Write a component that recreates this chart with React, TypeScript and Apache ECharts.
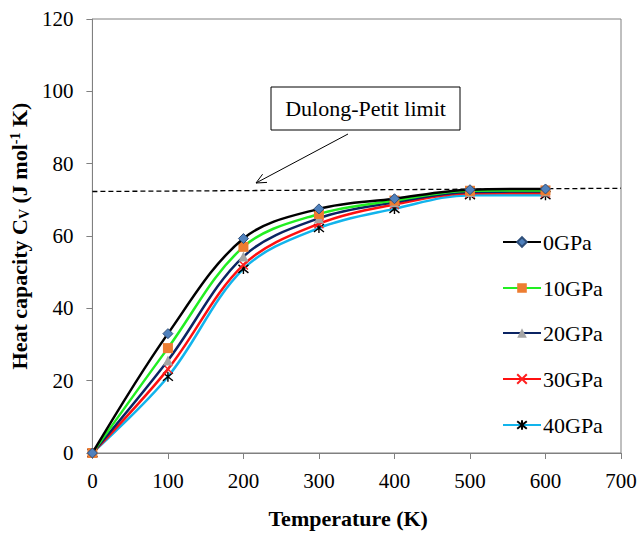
import React, { useEffect, useRef } from "react";
import * as echarts from "echarts";

const temperatures = [0, 100, 200, 300, 400, 500, 600];
const seriesNames = ["0GPa", "10GPa", "20GPa", "30GPa", "40GPa"];
const cv0 = [0, 33.0, 59.3, 67.5, 70.3, 72.8, 73.0];
const cv10 = [0, 29.0, 57.0, 66.1, 69.8, 72.5, 72.6];
const cv20 = [0, 25.6, 54.3, 64.9, 69.3, 72.2, 72.3];
const cv30 = [0, 23.2, 52.0, 63.4, 68.7, 71.8, 71.9];
const cv40 = [0, 21.1, 50.9, 62.2, 67.5, 71.3, 71.3];
const dulongX = [0, 700];
const dulongY = [72.3, 73.2];
const xTicks = [0, 100, 200, 300, 400, 500, 600, 700];
const yTicks = [0, 20, 40, 60, 80, 100, 120];

const FONT = "Liberation Serif";

const lineColors = ["#000000", "#22ee22", "#0b2463", "#ff1010", "#12b4ec"];
const markerColors = ["#4f81bd", "#ed7d31", "#a5a5a5", "#ff2020", "#000000"];
const symbols = [
  "diamond",
  "rect",
  "triangle",
  "path://M0,0L10,10M10,0L0,10",
  "path://M1,1L9,9M9,1L1,9M5,0L5,10",
];
const symbolSizes = [10, 10, 10, 9, 10];
const legendCenters = [237, 283, 328, 374, 420];

export default function App() {
  const ref = useRef<HTMLDivElement>(null);
  useEffect(() => {
    if (!ref.current) return;
    const chart = echarts.init(ref.current, null, { renderer: "svg" });
    const allData = [cv0, cv10, cv20, cv30, cv40];
    const series: any[] = allData.map((vals, i) => ({
      name: seriesNames[i],
      type: "line",
      smooth: 0.35,
      clip: false,
      data: temperatures.map((t, j) => [t, vals[j]]),
      symbol: symbols[i],
      symbolSize: symbolSizes[i],
      showSymbol: true,
      lineStyle: { color: lineColors[i], width: 2.5 },
      itemStyle: {
        color: markerColors[i],
        borderColor: i === 0 ? "#2f4f7a" : markerColors[i],
        borderWidth: i === 0 ? 1 : i >= 3 ? 1.4 : 0,
      },
      z: 3 + (4 - i),
    }));
    series.push({
      name: "Dulong-Petit",
      type: "line",
      data: dulongX.map((x, j) => [x, dulongY[j]]),
      symbol: "none",
      lineStyle: { color: "#000", width: 1.3, type: [5, 3] },
      z: 2,
    });

    const legends = seriesNames.map((n, i) => ({
      data: [n],
      left: 497,
      top: legendCenters[i] - 12,
      itemWidth: 38,
      itemHeight: 12,
      itemGap: 0,
      textStyle: {
        fontFamily: FONT,
        fontSize: 22,
        color: "#000",
        lineHeight: 24,
        padding: [0, 0, 0, -3],
      },
    }));

    chart.setOption({
      animation: false,
      backgroundColor: "#fff",
      textStyle: { fontFamily: FONT },
      grid: {
        left: 92,
        right: 19,
        top: 19,
        bottom: 78,
        show: true,
        borderColor: "#808080",
        borderWidth: 1,
      },
      legend: legends,
      xAxis: {
        type: "value",
        min: xTicks[0],
        max: xTicks[xTicks.length - 1],
        interval: 100,
        name: "Temperature (K)",
        nameLocation: "middle",
        nameGap: 54,
        nameTextStyle: {
          fontFamily: FONT,
          fontSize: 22,
          fontWeight: "bold",
          color: "#000",
          padding: [0, 17, 0, 0],
        },
        axisLine: { show: true, lineStyle: { color: "#808080", width: 1 } },
        axisTick: { show: true, inside: false, length: 6, lineStyle: { color: "#808080" } },
        axisLabel: { fontFamily: FONT, fontSize: 21, color: "#000", margin: 17 },
        splitLine: { show: false },
      },
      yAxis: {
        type: "value",
        min: yTicks[0],
        max: yTicks[yTicks.length - 1],
        interval: 20,
        name: "Heat capacity C{sub|V} (J mol{sup|-1} K)",
        nameLocation: "middle",
        nameGap: 60,
        nameRotate: 90,
        nameTextStyle: {
          fontFamily: FONT,
          fontSize: 22,
          fontWeight: "bold",
          color: "#000",
          rich: {
            sub: {
              fontFamily: FONT,
              fontSize: 14,
              fontWeight: "bold",
              color: "#000",
              padding: [9, 0, 0, 0],
            },
            sup: {
              fontFamily: FONT,
              fontSize: 14,
              fontWeight: "bold",
              color: "#000",
              padding: [0, 0, 9, 0],
            },
          },
        },
        axisLine: { show: true, lineStyle: { color: "#808080", width: 1 } },
        axisTick: { show: true, inside: false, length: 6, lineStyle: { color: "#808080" } },
        axisLabel: { fontFamily: FONT, fontSize: 21, color: "#000", margin: 19 },
        splitLine: { show: false },
      },
      series,
      graphic: [
        {
          type: "rect",
          shape: { x: 271, y: 87, width: 189, height: 43 },
          style: { fill: "#fff", stroke: "#000", lineWidth: 1 },
          z: 10,
        },
        {
          type: "text",
          x: 365.5,
          y: 108.5,
          style: {
            text: "Dulong-Petit limit",
            fontFamily: FONT,
            fontSize: 22,
            fill: "#000",
            align: "center",
            verticalAlign: "middle",
          },
          z: 11,
        },
        {
          type: "line",
          shape: { x1: 348, y1: 134, x2: 256, y2: 183 },
          style: { stroke: "#000", lineWidth: 1 },
          z: 10,
        },
        {
          type: "polyline",
          shape: { points: [[262.6, 174.2], [256, 183], [267, 182.4]] },
          style: { stroke: "#000", lineWidth: 1, fill: "none" },
          z: 10,
        },
      ],
    });
    return () => chart.dispose();
  }, []);
  return (
    <div
      ref={ref}
      style={{ position: "fixed", left: 0, top: 0, width: 640, height: 534, background: "#fff" }}
    />
  );
}
